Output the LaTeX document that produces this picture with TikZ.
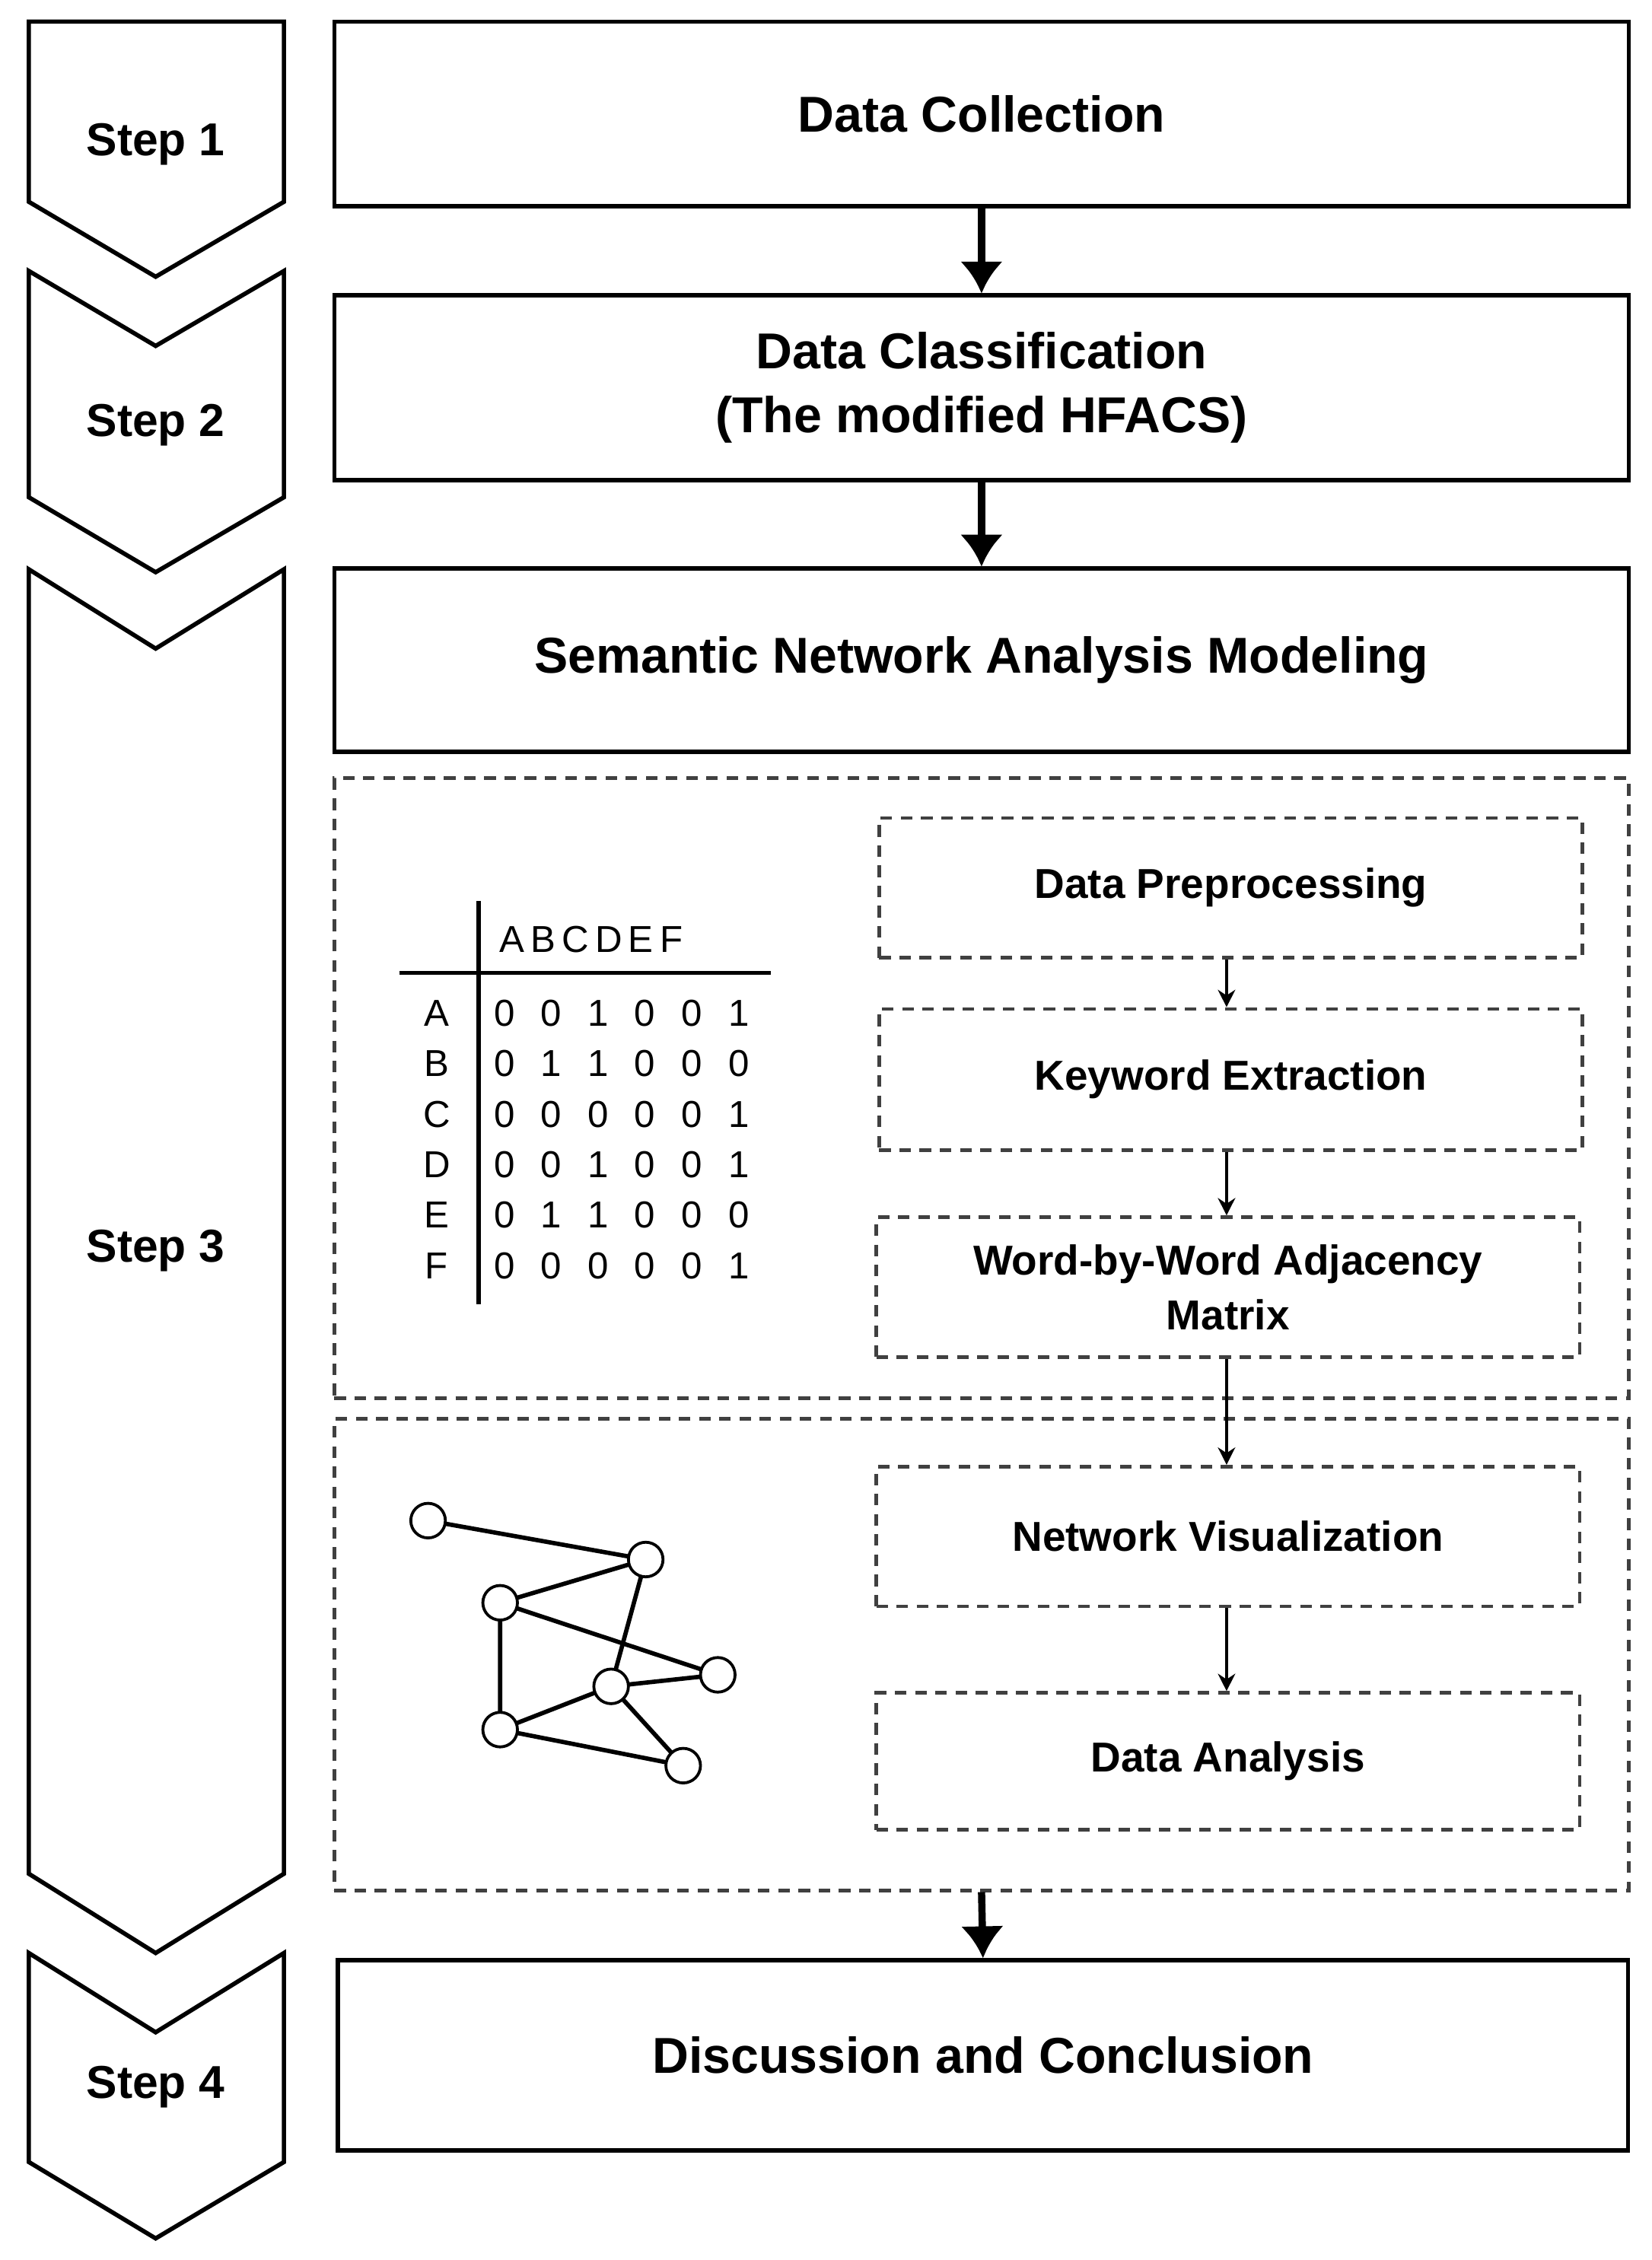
\documentclass[tikz,border=0pt]{standalone}
\usepackage{fontspec}
\setmainfont{Liberation Sans}
\usetikzlibrary{arrows.meta}
\begin{document}
\begin{tikzpicture}[x=1pt,y=-1pt,
 big/.style={draw,line width=3pt},
 dashbox/.style={draw,line width=2.5pt,dash pattern=on 8pt off 6pt,color=black!75,text=black},
 thick arrow/.style={line width=5pt,-{Latex[length=22pt,width=30pt]}},
 thin arrow/.style={line width=2pt,-{Stealth[length=12pt,width=12pt]}},
 steplbl/.style={font=\fontsize{32}{38}\selectfont\bfseries},
 boxt/.style={font=\fontsize{35}{44}\selectfont\bfseries,align=center},
 innert/.style={font=\fontsize{29}{38}\selectfont\bfseries,align=center},
 matt/.style={font=\fontsize{26}{30}\selectfont},
 nd/.style={circle,minimum size=24pt,inner sep=0pt}]
\useasboundingbox (0,0) rectangle (1146,1568);
% step chevrons
\draw[big] (20,15)--(197,15)--(197,140)--(108,192)--(20,140)--cycle;
\draw[big] (20,188)--(108,240)--(197,188)--(197,345)--(108,397)--(20,345)--cycle;
\draw[big] (20,395)--(108,450)--(197,395)--(197,1300)--(108,1355)--(20,1300)--cycle;
\draw[big] (20,1355)--(108,1410)--(197,1355)--(197,1500)--(108,1553)--(20,1500)--cycle;
\node[steplbl] (s1) at (108,100) {Step 1};
\node[steplbl] (s2) at (108,295) {Step 2};
\node[steplbl] (s3) at (108,868) {Step 3};
\node[steplbl] (s4) at (108,1448) {Step 4};
% main boxes
\node[big,boxt,minimum width=898pt,minimum height=128pt] (b1) at (681,79) {Data Collection};
\node[big,boxt,minimum width=898pt,minimum height=128pt] (b2) at (681,269) {Data Classification\\(The modified HFACS)};
\node[big,boxt,minimum width=898pt,minimum height=127pt] (b3) at (681,458) {Semantic Network Analysis Modeling};
\node[big,boxt,minimum width=895pt,minimum height=132pt] (b4) at (682,1426) {Discussion and Conclusion};
\node[dashbox,minimum width=898pt,minimum height=430pt] (d1) at (681,755) {};
\node[dashbox,minimum width=898pt,minimum height=327pt] (d2) at (681,1148) {};
\draw[thick arrow] (b1.south) -- (b2.north);
\draw[thick arrow] (b2.south) -- (b3.north);
\draw[thick arrow] (d2.south) -- (b4.north);
% inner boxes
\node[dashbox,innert,minimum width=488pt,minimum height=97pt] (i1) at (854,616) {Data Preprocessing};
\node[dashbox,innert,minimum width=488pt,minimum height=98pt] (i2) at (854,749) {Keyword Extraction};
\node[dashbox,innert,minimum width=488pt,minimum height=97pt] (i3) at (852,893) {Word-by-Word Adjacency\\Matrix};
\node[dashbox,innert,minimum width=488pt,minimum height=97pt] (i4) at (852,1066) {Network Visualization};
\node[dashbox,innert,minimum width=488pt,minimum height=95pt] (i5) at (852,1222) {Data Analysis};
\draw[thin arrow] (i1.south -| 851,0) -- (i2.north -| 851,0);
\draw[thin arrow] (i2.south -| 851,0) -- (i3.north -| 851,0);
\draw[thin arrow] (i3.south -| 851,0) -- (i4.north -| 851,0);
\draw[thin arrow] (i4.south -| 851,0) -- (i5.north -| 851,0);
% matrix
\coordinate (v1) at (332,625); \coordinate (v2) at (332,905);
\coordinate (h1) at (277,675); \coordinate (h2) at (535,675);
\draw[line width=3pt] (v1)--(v2);
\draw[line width=3pt] (h1)--(h2);
\node[matt,anchor=west] (hdr) at (343,652) {A\,B\,C\,D\,E\,F};
\foreach \l/\r [count=\i] in {A/{0,0,1,0,0,1},B/{0,1,1,0,0,0},C/{0,0,0,0,0,1},D/{0,0,1,0,0,1},E/{0,1,1,0,0,0},F/{0,0,0,0,0,1}}{
  \node[matt] (rl\i) at (303,668+35*\i) {\l};
  \foreach \v [count=\j] in \r {
    \node[matt] (m\i\j) at (350+32.5*\j-32.5,668+35*\i) {\v};
  }
}
% network
\node[nd] (n1) at (297,1055) {};
\node[nd] (n2) at (448,1082) {};
\node[nd] (n3) at (347,1112) {};
\node[nd] (n4) at (498,1162) {};
\node[nd] (n5) at (424,1170) {};
\node[nd] (n6) at (347,1200) {};
\node[nd] (n7) at (474,1225) {};
\draw[line width=3pt] (n1)--(n2) (n2)--(n3) (n3)--(n4) (n2)--(n5) (n3)--(n6) (n6)--(n5) (n5)--(n4) (n5)--(n7) (n6)--(n7);
\foreach \n in {n1,n2,n3,n4,n5,n6,n7}
  \draw[line width=2pt,fill=white] (\n.center) circle (12pt);
\end{tikzpicture}
\end{document}
